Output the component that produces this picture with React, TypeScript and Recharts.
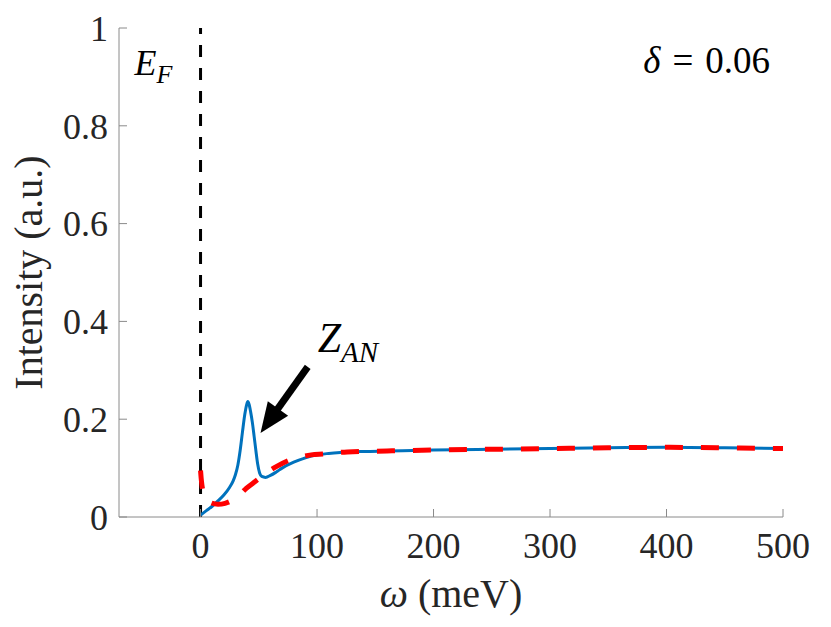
import React from 'react'
import { LineChart, Line, XAxis, YAxis, ReferenceLine } from 'recharts'

// spectral intensity vs omega (meV)
const omegaFull = [0, 5, 10, 15, 20, 25, 28, 30, 32, 34, 36, 38, 39.5, 40.6, 41.7, 43, 44.5, 46, 47.5, 49, 50.7, 52.5, 55.8, 60, 65, 70, 80, 90, 100, 110, 120, 140, 160, 200, 250, 300, 350, 400, 450, 500]
const intensityFull = [0.004, 0.013, 0.022, 0.033, 0.045, 0.061, 0.074, 0.087, 0.106, 0.136, 0.174, 0.21, 0.229, 0.236, 0.23, 0.215, 0.193, 0.165, 0.136, 0.109, 0.09, 0.083, 0.081, 0.085, 0.092, 0.1, 0.112, 0.121, 0.127, 0.13, 0.132, 0.134, 0.135, 0.137, 0.1385, 0.14, 0.1415, 0.1425, 0.1415, 0.14]

const omegaBg = [0, 0.5, 1.2, 2.5, 5, 9, 15, 21, 27, 33, 39, 45, 51, 57, 65, 76, 86, 95, 105, 126, 160, 200, 250, 300, 350, 400, 450, 500]
const intensityBg = [0.095, 0.08, 0.065, 0.05, 0.037, 0.029, 0.026, 0.028, 0.034, 0.044, 0.058, 0.069, 0.08, 0.091, 0.103, 0.116, 0.123, 0.127, 0.129, 0.133, 0.135, 0.137, 0.1385, 0.14, 0.1415, 0.1425, 0.1415, 0.14]

const xTicks = [0, 100, 200, 300, 400, 500]
const yTicks = [0, 0.2, 0.4, 0.6, 0.8, 1]
const yTickLabels = ['0', '0.2', '0.4', '0.6', '0.8', '1']

const full = omegaFull.map((w, i) => ({ w, v: intensityFull[i] }))
const bg = omegaBg.map((w, i) => ({ w, v: intensityBg[i] }))

const FONT = '"Liberation Serif", serif'
const TXT = '#262626'
const AX = '#8a8a8a'

function Arrow(props: any) {
  const { x1, y1, x2, y2 } = props
  const dx = x2 - x1
  const dy = y2 - y1
  const len = Math.hypot(dx, dy)
  const ux = dx / len
  const uy = dy / len
  const bx = x2 - ux * 30
  const by = y2 - uy * 30
  const px = -uy * 12.5
  const py = ux * 12.5
  return (
    <g>
      <line x1={x1} y1={y1} x2={bx + ux * 2} y2={by + uy * 2} stroke="#000" strokeWidth={7} />
      <polygon points={`${x2},${y2} ${bx + px},${by + py} ${bx - px},${by - py}`} fill="#000" />
      <text x={x1 + 10} y={y1 - 15} fontFamily={FONT} fontStyle="italic" fontSize={42} fill="#000">
        Z<tspan dy={10} fontSize={29}>AN</tspan>
      </text>
    </g>
  )
}

const EfLabel = (props: any) => {
  const { viewBox } = props
  return (
    <text x={viewBox.x - 66} y={viewBox.y + 47} fontFamily={FONT} fontStyle="italic" fontSize={36} fill="#000">
      E<tspan dy={8} fontSize={26}>F</tspan>
    </text>
  )
}

const DeltaLabel = (props: any) => {
  const { viewBox } = props
  return (
    <text x={viewBox.x + viewBox.width - 13} y={viewBox.y + 45} textAnchor="end" fontFamily={FONT} fontSize={37} fill="#000">
      <tspan fontStyle="italic">δ</tspan>
      <tspan dx={12}>=</tspan>
      <tspan dx={12}>0.06</tspan>
    </text>
  )
}

const XTitle = (props: any) => {
  const { viewBox } = props
  return (
    <text x={viewBox.x + viewBox.width / 2} y={viewBox.y + 90} textAnchor="middle" fontFamily={FONT} fontSize={40} fill={TXT}>
      <tspan fontStyle="italic">ω</tspan> (meV)
    </text>
  )
}

const YTitle = (props: any) => {
  const { viewBox } = props
  const cx = 42
  const cy = viewBox.y + viewBox.height / 2
  return (
    <text x={cx} y={cy} transform={`rotate(-90, ${cx}, ${cy})`} textAnchor="middle" fontFamily={FONT} fontSize={40} fill={TXT}>
      Intensity (a.u.)
    </text>
  )
}

export default function App() {
  const tickStyle = { fill: TXT, fontSize: 36, fontFamily: FONT }
  return (
    <div style={{ width: 831, height: 627, background: '#fff' }}>
      <style>{'body{margin:0}'}</style>
      <LineChart width={831} height={627} margin={{ top: 28, right: 48, bottom: 0, left: 0 }}>
        <XAxis
          xAxisId="b"
          dataKey="w"
          type="number"
          domain={[-70, 500]}
          ticks={xTicks}
          allowDataOverflow
          height={110}
          stroke={AX}
          tickSize={-8}
          tickMargin={23}
          tick={tickStyle}
          label={<XTitle />}
        />
        <XAxis
          xAxisId="t"
          dataKey="w"
          type="number"
          orientation="top"
          domain={[-70, 500]}
          ticks={xTicks}
          allowDataOverflow
          height={0}
          stroke={AX}
          tickSize={-8}
          tick={false}
        />
        <YAxis
          yAxisId="l"
          type="number"
          domain={[0, 1]}
          ticks={yTicks}
          allowDataOverflow
          width={119}
          stroke={AX}
          tickSize={-8}
          tickMargin={19}
          tick={tickStyle}
          tickFormatter={(v: number) => yTickLabels[yTicks.indexOf(v)] ?? String(v)}
          label={<YTitle />}
        />
        <YAxis
          yAxisId="r"
          type="number"
          orientation="right"
          domain={[0, 1]}
          ticks={yTicks}
          allowDataOverflow
          width={0}
          stroke={AX}
          tickSize={-8}
          tick={false}
        />
        <ReferenceLine xAxisId="b" yAxisId="l" y={1} stroke="none" label={<DeltaLabel />} />
        <ReferenceLine xAxisId="b" yAxisId="l" x={0} stroke="#000" strokeWidth={3} strokeDasharray="12 11" label={<EfLabel />} />
        <Line xAxisId="b" yAxisId="l" data={full} dataKey="v" type="monotone" stroke="#0072BD" strokeWidth={3} dot={false} isAnimationActive={false} />
        <Line xAxisId="b" yAxisId="l" data={bg} dataKey="v" type="monotone" stroke="#FF0000" strokeWidth={5} strokeDasharray="18 18" dot={false} isAnimationActive={false} />
        <ReferenceLine
          xAxisId="b"
          yAxisId="l"
          segment={[{ x: 92, y: 0.307 }, { x: 51.5, y: 0.172 }]}
          shape={<Arrow />}
        />
      </LineChart>
    </div>
  )
}
